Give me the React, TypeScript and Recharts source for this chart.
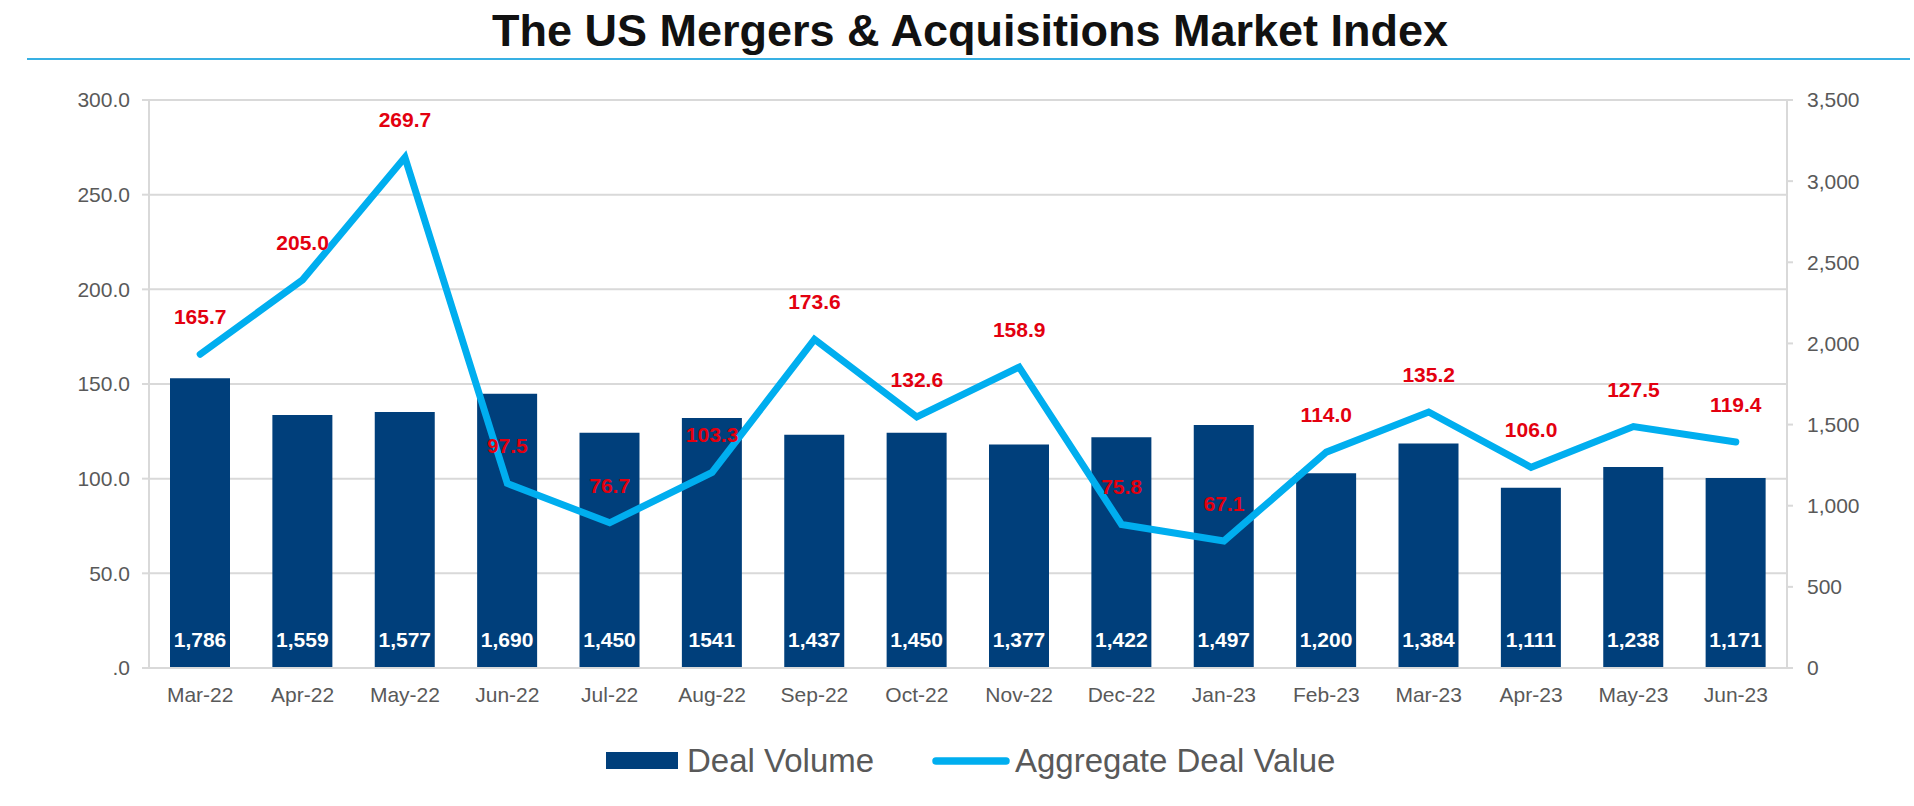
import { ComposedChart, Bar, Line, XAxis, YAxis, CartesianGrid, LabelList } from "recharts";

const months = [
  "Mar-22", "Apr-22", "May-22", "Jun-22", "Jul-22", "Aug-22", "Sep-22", "Oct-22",
  "Nov-22", "Dec-22", "Jan-23", "Feb-23", "Mar-23", "Apr-23", "May-23", "Jun-23",
];
const dealVolume = [1786, 1559, 1577, 1690, 1450, 1541, 1437, 1450, 1377, 1422, 1497, 1200, 1384, 1111, 1238, 1171];
const volumeLabels = [
  "1,786", "1,559", "1,577", "1,690", "1,450", "1541", "1,437", "1,450",
  "1,377", "1,422", "1,497", "1,200", "1,384", "1,111", "1,238", "1,171",
];
const dealValue = [165.7, 205.0, 269.7, 97.5, 76.7, 103.3, 173.6, 132.6, 158.9, 75.8, 67.1, 114.0, 135.2, 106.0, 127.5, 119.4];
const leftTicks = [0, 50, 100, 150, 200, 250, 300];
const rightTicks = [0, 500, 1000, 1500, 2000, 2500, 3000, 3500];

const title = "The US Mergers & Acquisitions Market Index";
const volumeName = "Deal Volume";
const valueName = "Aggregate Deal Value";

const BAR = "#003f7b";
const LINE = "#00aeef";
const GRID = "#d9d9d9";
const TEXT = "#595959";
const FONT = '"Liberation Sans", Arial, sans-serif';

const data = months.map((month, i) => ({
  month,
  volume: dealVolume[i],
  volumeLabel: volumeLabels[i],
  value: dealValue[i],
}));

export default function App() {
  return (
    <div style={{ position: "absolute", left: 0, top: 0, width: 1914, height: 806, background: "#fff", fontFamily: FONT }}>
      <ComposedChart
        width={1914}
        height={806}
        data={data}
        margin={{ top: 100, right: 67, bottom: 98, left: 89 }}
        barSize={60}
      >
        <CartesianGrid yAxisId="left" vertical={false} stroke={GRID} strokeWidth={2} />
        <XAxis
          dataKey="month"
          interval={0}
          height={40}
          tickLine={false}
          tickSize={0}
          tickMargin={19}
          axisLine={{ stroke: GRID, strokeWidth: 2 }}
          tick={{ fill: TEXT, fontSize: 21 }}
        />
        <YAxis
          yAxisId="left"
          orientation="left"
          type="number"
          domain={[0, 300]}
          ticks={leftTicks}
          width={60}
          tickSize={7}
          tickMargin={12}
          axisLine={{ stroke: GRID, strokeWidth: 2 }}
          tickLine={{ stroke: GRID, strokeWidth: 2 }}
          tick={{ fill: TEXT, fontSize: 21 }}
          tickFormatter={(v: number) => (v === 0 ? ".0" : v.toFixed(1))}
        />
        <YAxis
          yAxisId="right"
          orientation="right"
          type="number"
          domain={[0, 3500]}
          ticks={rightTicks}
          width={60}
          tickSize={6}
          tickMargin={14}
          axisLine={{ stroke: GRID, strokeWidth: 2 }}
          tickLine={{ stroke: GRID, strokeWidth: 2 }}
          tick={{ fill: TEXT, fontSize: 21 }}
          tickFormatter={(v: number) => v.toLocaleString("en-US")}
        />
        <Bar yAxisId="right" dataKey="volume" name={volumeName} fill={BAR} isAnimationActive={false}>
          <LabelList
            dataKey="volumeLabel"
            position="insideBottom"
            offset={21}
            fill="#ffffff"
            fontSize={21}
            fontWeight="bold"
          />
        </Bar>
        <Line
          yAxisId="left"
          type="linear"
          dataKey="value"
          name={valueName}
          stroke={LINE}
          strokeWidth={7}
          strokeLinecap="round"
          dot={false}
          activeDot={false}
          isAnimationActive={false}
        >
          <LabelList
            dataKey="value"
            position="top"
            offset={30}
            fill="#e3000f"
            fontSize={21}
            fontWeight="bold"
            formatter={(v: number) => v.toFixed(1)}
          />
        </Line>
      </ComposedChart>

      <svg
        width={1914}
        height={806}
        style={{ position: "absolute", left: 0, top: 0, pointerEvents: "none", fontFamily: FONT }}
      >
        <text x={970} y={46} textAnchor="middle" fontSize={45} fontWeight="bold" fill="#111">
          {title}
        </text>
        <rect x={27} y={58} width={1883} height={2} fill="#38b0e3" />

        <rect x={606} y={752} width={72} height={17} fill={BAR} />
        <text x={687} y={772} fontSize={33} fill={TEXT}>
          {volumeName}
        </text>
        <line x1={936} y1={761} x2={1006} y2={761} stroke={LINE} strokeWidth={7.5} strokeLinecap="round" />
        <text x={1015} y={772} fontSize={33} fill={TEXT}>
          {valueName}
        </text>
      </svg>
    </div>
  );
}
